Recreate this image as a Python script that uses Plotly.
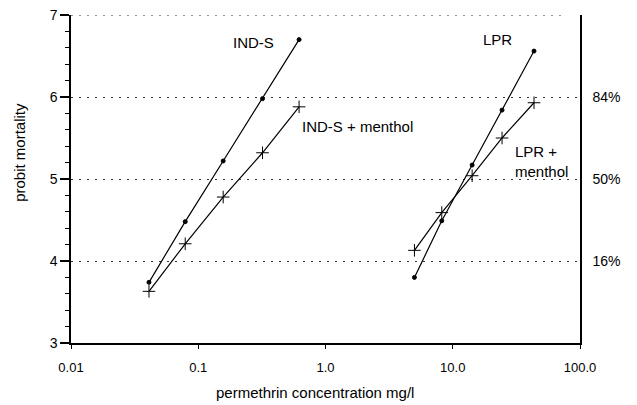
import math
import plotly.graph_objects as go

# concentrations (mg/l)
ind_conc = [0.041, 0.079, 0.157, 0.32, 0.62]
lpr_conc = [5.0, 8.2, 14.2, 24.4, 43.5]

ind_s = [3.74, 4.48, 5.22, 5.98, 6.70]
ind_s_menthol = [3.63, 4.21, 4.78, 5.32, 5.88]
lpr = [3.80, 4.49, 5.17, 5.84, 6.56]
lpr_menthol = [4.13, 4.59, 5.04, 5.50, 5.93]

x_tickvals = [0.01, 0.1, 1, 10, 100]
x_ticktext = ["0.01", "0.1", "1.0", "10.0", "100.0"]
right_tickvals = [4, 5, 6]
right_ticktext = ["16%", "50%", "84%"]

FONT = "Liberation Sans, Arial, sans-serif"
fig = go.Figure()

def add(xs, ys, symbol, size):
    fig.add_trace(go.Scatter(
        x=xs, y=ys, mode="lines+markers",
        line=dict(color="black", width=1.2),
        marker=dict(symbol=symbol, size=size, color="black",
                    line=dict(color="black", width=1)),
        showlegend=False, hoverinfo="skip"))

add(ind_conc, ind_s, "circle", 4)
add(ind_conc, ind_s_menthol, "cross-thin", 9)
add(lpr_conc, lpr, "circle", 4)
add(lpr_conc, lpr_menthol, "cross-thin", 9)

# empty trace so the right-hand probability axis is drawn
fig.add_trace(go.Scatter(x=[], y=[], yaxis="y2", showlegend=False, hoverinfo="skip"))

annots = [
    dict(x=0.274, y=6.67, text="IND-S", xanchor="center"),
    dict(x=0.63, y=5.64, text="IND-S + menthol", xanchor="left"),
    dict(x=22.3, y=6.70, text="LPR", xanchor="center"),
    dict(x=29.7, y=5.21, text="LPR +<br>menthol", xanchor="left", align="left"),
]
for a in annots:
    fig.add_annotation(x=math.log10(a["x"]), y=a["y"], text=a["text"],
                       xanchor=a["xanchor"], yanchor="middle", showarrow=False,
                       align=a.get("align", "center"),
                       font=dict(family=FONT, size=15, color="black"))

# y-axis title (placed as in the reference, above the axis centre)
fig.add_annotation(x=-0.10, xref="paper", y=5.32, yref="y", text="probit mortality",
                   textangle=-90, showarrow=False, xanchor="center", yanchor="middle",
                   font=dict(family=FONT, size=15, color="black"))

# x-axis title
fig.add_annotation(x=0.48, xref="paper", y=-0.152, yref="paper",
                   text="permethrin concentration mg/l", showarrow=False,
                   xanchor="center", yanchor="middle",
                   font=dict(family=FONT, size=15, color="black"))

# top gridline at probit 7
fig.add_shape(type="line", xref="paper", x0=0, x1=0.97, yref="y", y0=7, y1=7,
              line=dict(color="#333333", width=1, dash="2px,6px"))

fig.update_layout(
    width=637, height=405,
    margin=dict(l=71, r=57, t=15, b=62),
    paper_bgcolor="white", plot_bgcolor="white",
    font=dict(family=FONT, size=13, color="black"),
    xaxis=dict(
        type="log", range=[-2, 2], automargin=False,
        tickvals=x_tickvals, ticktext=x_ticktext,
        showline=True, linecolor="black", linewidth=1.5,
        ticks="outside", ticklen=4, tickwidth=1.2, tickcolor="black",
        ticklabelstandoff=8,
        showgrid=False, zeroline=False,
        tickfont=dict(size=13),
    ),
    yaxis=dict(
        range=[3, 7], automargin=False,
        tickmode="linear", tick0=3, dtick=1,
        showline=True, linecolor="black", linewidth=1.5,
        ticks="outside", ticklen=9, tickwidth=1.5, tickcolor="black",
        showgrid=True, gridcolor="#333333", griddash="2px,6px", gridwidth=1,
        zeroline=False,
        tickfont=dict(size=14),
        minor=dict(tickmode="linear", dtick=0.2, ticks="outside", ticklen=4,
                   tickwidth=1, tickcolor="black", showgrid=False),
    ),
    yaxis2=dict(
        overlaying="y", side="right", range=[3, 7], automargin=False,
        tickvals=right_tickvals, ticktext=right_ticktext,
        showline=True, linecolor="black", linewidth=1.5,
        ticks="", showgrid=False, zeroline=False,
        ticklabelstandoff=8,
        tickfont=dict(size=14),
    ),
)
fig.write_html("out.html")
